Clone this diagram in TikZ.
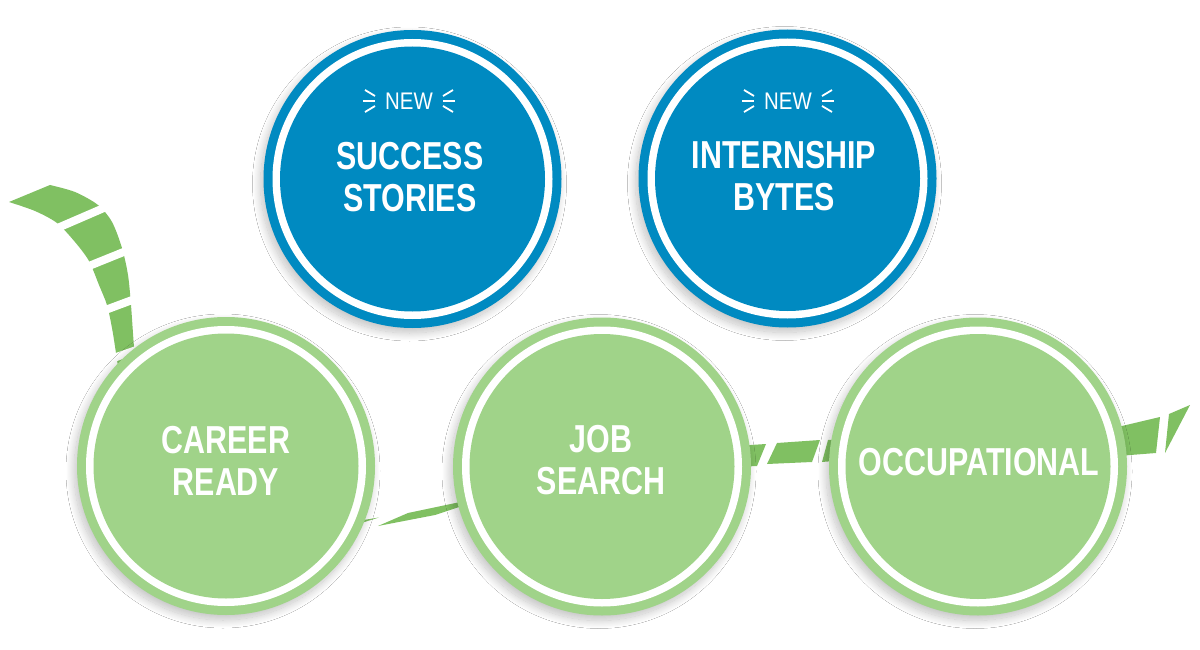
\documentclass[tikz,border=0pt]{standalone}
\usepackage{fontspec}
\setmainfont{Liberation Sans}
\newfontfamily\headfont[FakeStretch=0.78]{Liberation Sans}
\newfontfamily\tagfont[FakeStretch=0.85]{Liberation Sans}
\usetikzlibrary{shadows.blur,calc}
\definecolor{cblue}{RGB}{0,138,193}
\definecolor{cgreen}{RGB}{160,211,137}
\definecolor{cribbon}{RGB}{128,192,98}
\begin{document}
\begin{tikzpicture}[x=1pt,y=-1pt,
  ring/.style={circle, inner sep=0pt, minimum size=298pt, fill=#1,
    blur shadow={shadow xshift=-3pt, shadow yshift=-5pt, shadow blur radius=8pt, shadow opacity=24, shadow blur steps=16},
    path picture={\fill[white] (path picture bounding box.center) circle[radius=140pt];
                  \fill[#1] (path picture bounding box.center) circle[radius=132.5pt];}},
  headtxt/.style={text=white, align=center, font=\headfont\bfseries\fontsize{39}{42}\selectfont, inner sep=0pt},
  newtag/.style={text=white, font=\tagfont\fontsize{24}{24}\selectfont, inner sep=0pt},
  burst/.style={draw=white, line width=1.8pt},
  ribbon/.style={fill=cribbon},
  cut/.style={draw=white, line width=8pt}
]
\useasboundingbox[fill=white] (0,0) rectangle (1200,650);

% ---- ribbon, section 1 (top left)
\fill[ribbon] plot[smooth] coordinates {(50,185) (75,192) (98,205) (112,222) (122,248) (128,275) (131,305) (134,347) (140,420)}
  -- plot[smooth] coordinates {(126,420) (116,353) (112,328) (107,305) (99,285) (89,261) (75,242) (57,223) (35,211) (9,202)} -- cycle;
\draw[cut] (53.6,229.7) -- (108.9,205.8);
\draw[cut] (84,268) -- (131,249);
\draw[cut] (100.5,311.8) -- (137,298.2);
\draw[cut] (109,359.6) -- (141,348.4);

% ---- section 2 (between Career Ready and Job Search)
\fill[ribbon] (345,523) -- (379,517.5) -- (345,528) -- cycle;
\fill[ribbon] (378,526) -- (408,513) -- (465,501) -- (465,505) -- (435,515) -- cycle;

% ---- section 3 (between Job Search and Occupational)
\fill[ribbon] (735,446) -- (766,444) -- (757,466) -- (735,467) -- cycle;
\fill[ribbon] (777,443) -- (820,440) -- (812,462) -- (767,464) -- cycle;
\fill[ribbon] (828,440) -- (845,439) -- (845,460) -- (822,462) -- cycle;

% ---- section 4 (right end)
\fill[ribbon] (1105,430) -- (1160,417) -- (1156,453) -- (1105,457) -- cycle;
\fill[ribbon] (1169,414) -- (1190,405) -- (1165,453) -- cycle;

% ---- green circles
\node[ring=cgreen] (cr) at (226,466) {};
\node[ring=cgreen] (js) at (602,466.5) {};
\node[ring=cgreen] (oc) at (978,466.5) {};
\node[headtxt] (crt) at (226,461) {CAREER\\READY};
\node[headtxt] (jst) at (601,460.5) {JOB\\SEARCH};
\node[headtxt] (oct) at (979,462) {OCCUPATIONAL};

% ---- blue circles
\node[ring=cblue] (ss) at (412.5,179) {};
\node[ring=cblue] (ib) at (787.5,178.5) {};
\node[headtxt] (sst) at (410,177) {SUCCESS\\STORIES};
\node[headtxt] (ibt) at (784,176.5) {INTERNSHIP\\BYTES};
\node[newtag] (ssnew) at (409,101) {NEW};
\node[newtag] (ibnew) at (788,101) {NEW};
\foreach \n in {ssnew,ibnew}{
  \draw[burst] ($(\n)+(-44,-11)$) -- ++(10,6);
  \draw[burst] ($(\n)+(-46,0)$) -- ++(12,0);
  \draw[burst] ($(\n)+(-44,11)$) -- ++(10,-6);
  \draw[burst] ($(\n)+(44,-11)$) -- ++(-10,6);
  \draw[burst] ($(\n)+(46,0)$) -- ++(-12,0);
  \draw[burst] ($(\n)+(44,11)$) -- ++(-10,-6);
}
\end{tikzpicture}
\end{document}
